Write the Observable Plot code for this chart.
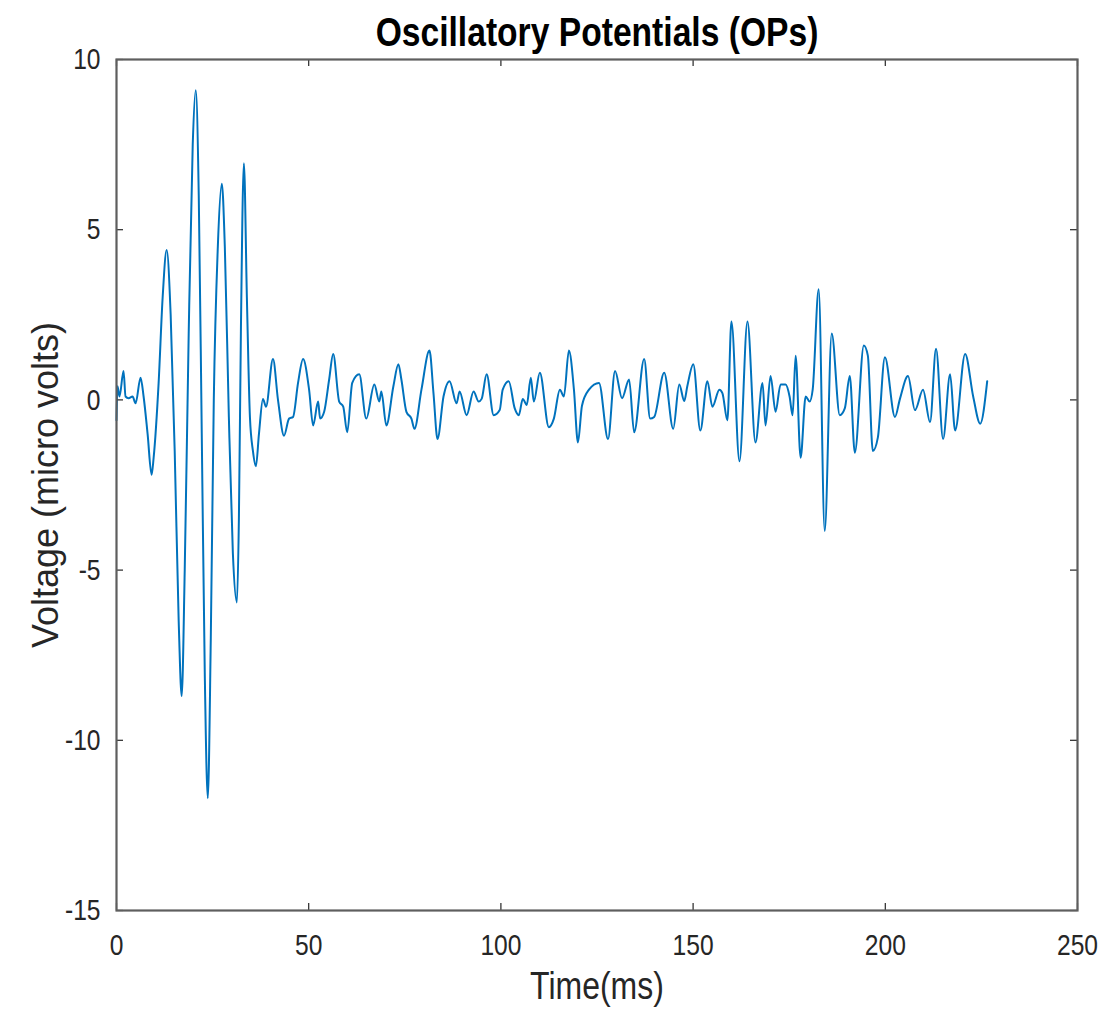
<!DOCTYPE html>
<html>
<head>
<meta charset="utf-8">
<script src="https://cdn.jsdelivr.net/npm/d3@7"></script>
<script src="https://cdn.jsdelivr.net/npm/@observablehq/plot@0.6"></script>
<style>
  html, body { margin: 0; padding: 0; background: #fff; }
  #chart svg { display: block; }
</style>
</head>
<body>
<div id="chart"></div>
<script>
// Time (ms) of each read-off sample
const timeMs = [
  0, 0.26, 0.78, 1.83, 2.35, 3.13, 4.18, 4.96, 6.26, 7.05, 8.09, 9.13, 9.66, 10.96, 12.0, 13.05,
  14.09, 15.14, 16.18, 16.96, 17.75, 18.79, 19.83, 20.62, 21.4, 22.18, 22.96, 23.75, 24.53, 25.31,
  26.36, 27.4, 28.18, 29.23, 30.27, 31.32, 31.84, 32.36, 33.14, 33.92, 34.71, 35.49, 36.27, 37.06,
  38.1, 38.88, 40.71, 42.01, 43.58, 44.89, 45.93, 47.23, 48.54, 50.1, 51.15, 52.45, 52.97, 54.02,
  55.32, 56.37, 57.93, 58.98, 60.02, 61.33, 63.15, 64.98, 67.07, 68.37, 68.89, 70.2, 72.03, 73.33,
  74.11, 75.42, 76.72, 77.51, 79.33, 81.42, 82.46, 83.51, 85.07, 86.64, 88.47, 89.25, 91.08, 92.9,
  94.21, 94.99, 96.29, 98.12, 99.69, 100.47, 102.04, 103.6, 104.65, 105.69, 106.73, 107.78, 108.56,
  110.13, 112.47, 113.78, 115.34, 116.39, 117.69, 119.0, 120.04, 121.09, 122.91, 125.52, 127.87,
  129.7, 131.52, 133.35, 134.66, 137.27, 138.83, 139.87, 142.48, 144.83, 146.4, 147.7, 148.49,
  150.05, 151.88, 153.71, 155.01, 156.84, 157.62, 158.92, 159.97, 162.06, 164.14, 166.23, 168.06,
  168.84, 170.15, 171.45, 172.76, 174.06, 175.1, 175.89, 176.67, 177.97, 179.28, 180.32, 181.11,
  182.67, 184.24, 186.06, 188.15, 189.46, 190.76, 192.07, 194.42, 195.46, 196.76, 198.07, 199.9,
  202.51, 203.81, 205.9, 207.72, 209.81, 211.64, 213.2, 215.03, 216.86, 218.16, 220.77, 222.86,
  224.69, 226.51
];
// Voltage (micro volts) at each sample
const voltage = [
  -0.6, 0.4, 0.1, 0.85, 0.1, 0.05, 0.1, -0.1, 0.65, 0.1, -1.0, -2.2, -1.7, 0.5, 3.0, 4.4,
  2.5, -1.5, -6.5, -8.7, -5.0, 2.0, 7.5, 9.1, 6.0, -1.0, -8.0, -11.7, -7.0, 0.0,
  4.5, 6.35, 4.5, -0.5, -4.5, -5.95, -3.5, 2.0, 6.95, 3.0, -0.5, -1.5, -1.95, -1.0,
  0.03, -0.2, 1.2, 0.0, -1.05, -0.55, -0.5, 0.5, 1.2, 0.3, -0.75, -0.05, -0.55, -0.35,
  0.6, 1.35, -0.05, -0.2, -0.95, 0.5, 0.75, -0.55, 0.45, -0.05, 0.25, -0.75, 0.4, 1.05,
  0.6, -0.35, -0.55, -0.85, 0.3, 1.45, 0.2, -1.15, 0.1, 0.55, -0.1, 0.25, -0.45, 0.25,
  -0.05, 0.03, 0.75, -0.45, -0.3, 0.3, 0.55, -0.25, -0.45, 0.03, -0.15, 0.65, -0.05,
  0.8, -0.8, -0.55, 0.3, 0.1, 1.45, 0.3, -1.25, -0.17, 0.3, 0.5, -1.15,
  0.85, 0.05, 0.6, -0.95, 1.2, -0.55, -0.5, 0.8, -0.85, 0.45, -0.03, 0.4,
  1.05, -0.9, 0.55, -0.2, 0.3, 0.2, -0.6, 2.3, -1.8, 2.3, -1.25, 0.5,
  -0.75, 0.7, -0.35, 0.45, 0.45, 0.1, -0.45, 1.3, -1.7, 0.1, -0.05, 0.3,
  3.25, -3.85, 1.95, -0.45, -0.25, 0.7, -1.55, 1.6, 1.3, -1.5, -1.1, 1.25,
  -0.5, 0.03, 0.7, -0.3, 0.3, -0.65, 1.5, -1.15, 0.75, -0.9, 1.35, 0.1,
  -0.7, 0.55
];
const xTicks = [0, 50, 100, 150, 200, 250];
const yTicks = [-15, -10, -5, 0, 5, 10];
const titleText = "Oscillatory Potentials (OPs)";
const xLabel = "Time(ms)";
const yLabel = "Voltage (micro volts)";

const data = timeMs.map((t, i) => ({t, v: voltage[i]}));

const W = 1105, H = 1019;
const mT = 59, mB = 109, mL = 116, mR = 28;
const innerW = W - mL - mR, innerH = H - mT - mB;
const tickLen = 7;
const axisColor = "#262626";
const font = "'Liberation Sans', Arial, Helvetica, sans-serif";

const chart = Plot.plot({
  width: W,
  height: H,
  marginTop: mT,
  marginBottom: mB,
  marginLeft: mL,
  marginRight: mR,
  style: {background: "#fff", fontFamily: font, color: axisColor},
  x: {domain: [0, 250], label: null},
  y: {domain: [-15, 10], label: null},
  marks: [
    Plot.line(data, {x: "t", y: "v", stroke: "#0072BD", strokeWidth: 2, curve: "monotone-x"}),
    Plot.axisX(xTicks, {anchor: "bottom", tickSize: 0, tickPadding: 23, fontSize: 30, fill: axisColor, label: null, tickFormat: d => String(d)}),
    Plot.axisY(yTicks, {anchor: "left", tickSize: 0, tickPadding: 16, fontSize: 30, fill: axisColor, label: null, tickFormat: d => String(d)}),
    // inward tick marks on all four sides
    Plot.tickX(xTicks, {x: d => d, insetTop: innerH - tickLen, stroke: axisColor, strokeWidth: 1.2}),
    Plot.tickX(xTicks, {x: d => d, insetBottom: innerH - tickLen, stroke: axisColor, strokeWidth: 1.2}),
    Plot.tickY(yTicks, {y: d => d, insetRight: innerW - tickLen, stroke: axisColor, strokeWidth: 1.2}),
    Plot.tickY(yTicks, {y: d => d, insetLeft: innerW - tickLen, stroke: axisColor, strokeWidth: 1.2}),
    Plot.frame({stroke: "#5e5e5e", strokeWidth: 2.2}),
    Plot.text([titleText], {frameAnchor: "top", dy: -27, fontSize: 41, fontWeight: "bold", fill: "#000", lineAnchor: "middle", textAnchor: "middle"}),
    Plot.text([xLabel], {frameAnchor: "bottom", dy: 76, fontSize: 39, fill: axisColor, lineAnchor: "middle", textAnchor: "middle"}),
    Plot.text([yLabel], {frameAnchor: "left", dx: -70, rotate: -90, fontSize: 36, fill: axisColor, lineAnchor: "middle", textAnchor: "middle"})
  ]
});

// The reference's lettering is tall and narrow: compress horizontal text horizontally.
chart.querySelectorAll("text").forEach(el => {
  const tr = el.getAttribute("transform") || "";
  if (tr.includes("rotate")) return;
  el.setAttribute("transform", (tr + " scale(0.82,1)").trim());
});

document.getElementById("chart").appendChild(chart);
</script>
</body>
</html>
